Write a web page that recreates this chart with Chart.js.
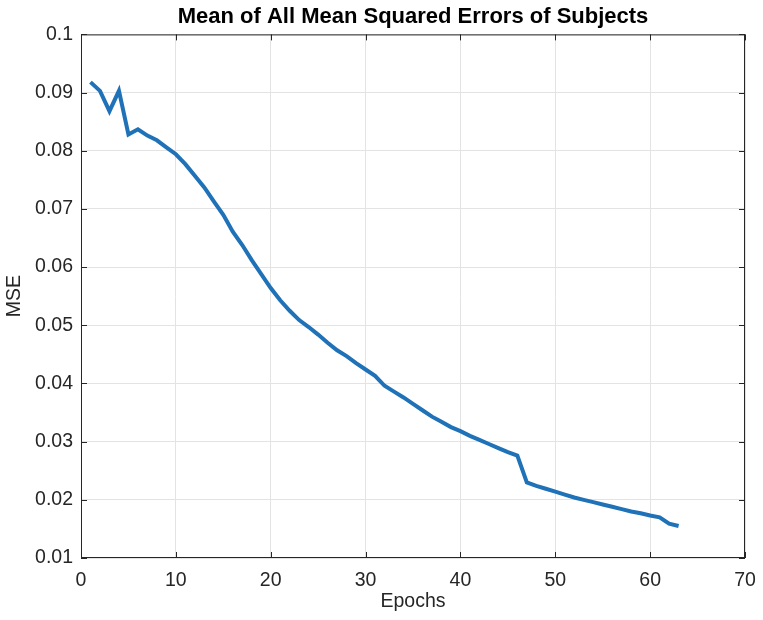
<!DOCTYPE html>
<html>
<head>
<meta charset="utf-8">
<script src="https://cdn.jsdelivr.net/npm/chart.js@4.4.1/dist/chart.umd.min.js"></script>
<style>
  html, body { margin: 0; padding: 0; background: #fff; }
  #wrap { width: 763px; height: 620px; }
</style>
</head>
<body>
<div id="wrap"><canvas id="mseChart" width="763" height="620"></canvas></div>
<script>
// dados
const epochs = [];
for (let i = 1; i <= 63; i++) epochs.push(i);

const mseValues = [
  0.0918, 0.0903, 0.0868, 0.0903, 0.0828, 0.0837, 0.0826, 0.0818, 0.0806, 0.0794,
  0.0777, 0.0757, 0.0737, 0.0713, 0.0690, 0.0661, 0.0638, 0.0612, 0.0588, 0.0564,
  0.0543, 0.0525, 0.0509, 0.0497, 0.0484, 0.0470, 0.0457, 0.0447, 0.0435, 0.0424,
  0.0413, 0.0396, 0.0386, 0.0376, 0.0365, 0.0354, 0.0343, 0.0334, 0.0325, 0.0318,
  0.0310, 0.0303, 0.0296, 0.0289, 0.0282, 0.0276, 0.0230, 0.0224, 0.0219, 0.0214,
  0.0209, 0.0204, 0.0200, 0.0196, 0.0192, 0.0188, 0.0184, 0.0180, 0.0177, 0.0173,
  0.0170, 0.0159, 0.0155
];

const xTicks = [0, 10, 20, 30, 40, 50, 60, 70];
const yTicks = [0.01, 0.02, 0.03, 0.04, 0.05, 0.06, 0.07, 0.08, 0.09, 0.1];

const axisColor = "#262626";
const gridColor = "#e3e3e3";
const fontFam = "'Liberation Sans', Arial, Helvetica, sans-serif";

// desenha a caixa estilo MATLAB e os ticks para dentro
const boxPlugin = {
  id: "matlabBox",
  afterDraw(chart) {
    const { ctx, chartArea: a, scales } = chart;
    ctx.save();
    ctx.strokeStyle = axisColor;
    ctx.lineWidth = 1;
    ctx.strokeRect(a.left + 0.5, a.top + 0.5, a.right - a.left - 1, a.bottom - a.top - 1);
    const len = 6;
    ctx.beginPath();
    xTicks.forEach(v => {
      const x = Math.round(scales.x.getPixelForValue(v)) + 0.5;
      ctx.moveTo(x, a.bottom); ctx.lineTo(x, a.bottom - len);
      ctx.moveTo(x, a.top); ctx.lineTo(x, a.top + len);
    });
    yTicks.forEach(v => {
      const y = Math.round(scales.y.getPixelForValue(v)) + 0.5;
      ctx.moveTo(a.left, y); ctx.lineTo(a.left + len, y);
      ctx.moveTo(a.right, y); ctx.lineTo(a.right - len, y);
    });
    ctx.stroke();
    ctx.restore();
  }
};

const ctx = document.getElementById("mseChart").getContext("2d");
const mseChart = new Chart(ctx, {
  type: "line",
  data: {
    labels: epochs,
    datasets: [{
      label: "MSE",
      data: epochs.map((e, i) => ({ x: e, y: mseValues[i] })),
      borderColor: "#1f72b8",
      borderWidth: 4,
      pointRadius: 0,
      fill: false,
      tension: 0
    }]
  },
  options: {
    responsive: false,
    animation: false,
    layout: { padding: { left: 0, right: 18, top: 0, bottom: 0 } },
    plugins: {
      legend: { display: false },
      tooltip: { enabled: false },
      title: {
        display: true,
        fullSize: false, // centraliza sobre a área do gráfico
        text: "Mean of All Mean Squared Errors of Subjects",
        color: "#000",
        font: { family: fontFam, size: 22, weight: "bold" },
        padding: { top: 4, bottom: 4 }
      }
    },
    scales: {
      x: {
        type: "linear",
        min: 0,
        max: 70,
        afterBuildTicks: s => { s.ticks = xTicks.map(v => ({ value: v })); },
        afterFit: s => {
          s.height = 62;
          s.paddingLeft = 0;
          s.paddingRight = 0;
        },
        ticks: {
          color: axisColor,
          font: { family: fontFam, size: 19.5 },
          padding: 11,
          maxRotation: 0
        },
        grid: { color: gridColor, drawTicks: false },
        border: { display: false },
        title: {
          display: true,
          text: "Epochs",
          color: axisColor,
          font: { family: fontFam, size: 19.5 },
          padding: { top: 0, bottom: 7 }
        }
      },
      y: {
        type: "linear",
        min: 0.01,
        max: 0.1,
        afterBuildTicks: s => { s.ticks = yTicks.map(v => ({ value: v })); },
        afterFit: s => {
          s.width = 81;
          s.paddingTop = 0;
          s.paddingBottom = 0;
        },
        ticks: {
          color: axisColor,
          font: { family: fontFam, size: 19.5 },
          padding: 8,
          callback: v => String(Number(v.toFixed(2)))
        },
        grid: { color: gridColor, drawTicks: false },
        border: { display: false },
        title: {
          display: true,
          text: "MSE",
          color: axisColor,
          font: { family: fontFam, size: 19.5 },
          padding: { top: 3, bottom: 0 }
        }
      }
    }
  },
  plugins: [boxPlugin]
});
</script>
</body>
</html>
